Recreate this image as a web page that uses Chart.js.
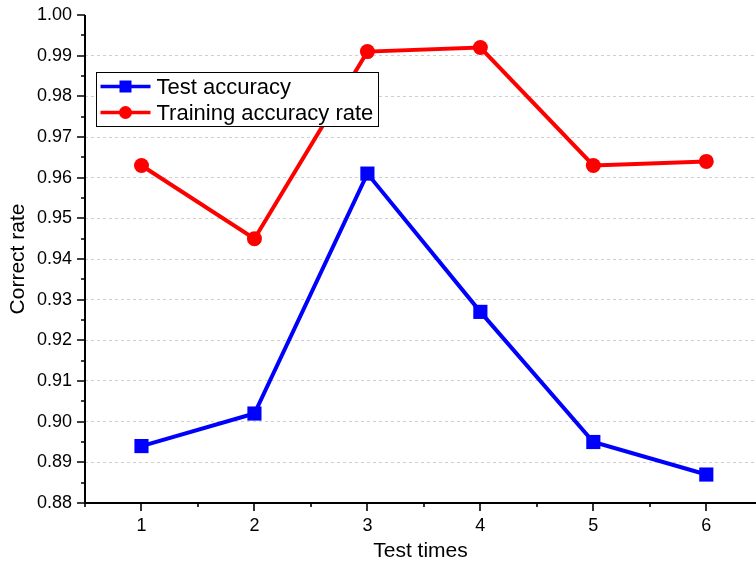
<!DOCTYPE html>
<html>
<head>
<meta charset="utf-8">
<script src="https://cdn.jsdelivr.net/npm/chart.js@4/dist/chart.umd.min.js"></script>
<style>
html,body{margin:0;padding:0;background:#fff}
#wrap{width:756px;height:564px;position:relative}
</style>
</head>
<body>
<div id="wrap"><canvas id="grafico"></canvas></div>
<script>
let testTimes=[1,2,3,4,5,6]
let testAccuracy=[0.894,0.902,0.961,0.927,0.895,0.887]
let trainingAccuracy=[0.963,0.945,0.991,0.992,0.963,0.964]
let seriesNames=['Test accuracy','Training accuracy rate']
let yTicks=[0.88,0.89,0.90,0.91,0.92,0.93,0.94,0.95,0.96,0.97,0.98,0.99,1.00]

let fonte='"Liberation Sans", Arial, sans-serif'

// ticks pra fora, estilo Origin (maior + menor)
let ticksOrigin={
id:'ticksOrigin',
afterDraw(chart){
let c=chart.ctx
let x=chart.scales.x
let y=chart.scales.y
let a=chart.chartArea
c.save()
c.strokeStyle='#000'
c.lineWidth=2
c.beginPath()
c.moveTo(a.left,a.top)
c.lineTo(a.left,a.bottom)
c.moveTo(a.left-1,a.bottom)
c.lineTo(a.right,a.bottom)
c.stroke()
c.lineWidth=1.6
c.beginPath()
for(let v=0.5;v<=x.max+0.001;v+=0.5){
let px=Math.round(x.getPixelForValue(v))
let major=Math.abs(v-Math.round(v))<0.01
c.moveTo(px,a.bottom)
c.lineTo(px,a.bottom+(major?8:4))
}
for(let i=0;i<=24;i++){
let v=0.88+i*0.005
let py=Math.round(y.getPixelForValue(v))
let major=i%2===0
c.moveTo(a.left,py)
c.lineTo(a.left-(major?8:4),py)
}
c.stroke()
c.restore()
}
}

let legendaCaixa={
id:'legendaCaixa',
afterDraw(chart){
let c=chart.ctx
let ds=chart.data.datasets
let bx=96.5,by=72.5,bw=282,bh=54
c.save()
c.fillStyle='#fff'
c.fillRect(bx,by,bw,bh)
c.strokeStyle='#000'
c.lineWidth=1
c.strokeRect(bx,by,bw,bh)
c.font='22px '+fonte
c.textBaseline='middle'
ds.forEach((d,i)=>{
let yy=by+14+i*26
c.strokeStyle=d.borderColor
c.lineWidth=3.5
c.beginPath()
c.moveTo(bx+4,yy)
c.lineTo(bx+54,yy)
c.stroke()
c.fillStyle=d.borderColor
if(d.pointStyle==='rect'){
c.fillRect(bx+29-6,yy-6,12,12)
}else{
c.beginPath()
c.arc(bx+29,yy,6.5,0,Math.PI*2)
c.fill()
}
c.fillStyle='#000'
c.fillText(d.label,bx+60,yy+1)
})
c.restore()
}
}

new Chart(document.getElementById('grafico'),{
type:'line',
data:{
datasets:[
{
label:seriesNames[0],
data:testTimes.map((t,i)=>({x:t,y:testAccuracy[i]})),
borderColor:'#0000ff',
backgroundColor:'#0000ff',
borderWidth:4,
pointStyle:'rect',
pointRadius:10,
pointBorderWidth:0,
tension:0
},
{
label:seriesNames[1],
data:testTimes.map((t,i)=>({x:t,y:trainingAccuracy[i]})),
borderColor:'#ff0000',
backgroundColor:'#ff0000',
borderWidth:4,
pointStyle:'circle',
pointRadius:7.5,
pointBorderWidth:0,
tension:0
}
]
},
options:{
responsive:true,
maintainAspectRatio:false,
animation:false,
layout:{autoPadding:false,padding:{top:15,right:0,left:0,bottom:0}},
clip:false,
plugins:{
legend:{display:false},
tooltip:{enabled:false}
},
scales:{
x:{
type:'linear',
min:0.5,
max:6.44,
afterBuildTicks:s=>{s.ticks=testTimes.map(v=>({value:v}))},
afterFit:s=>{s.height=61;s.paddingLeft=0;s.paddingRight=0},
border:{display:false},
grid:{display:false},
ticks:{
color:'#000',
padding:4,
font:{size:18,family:fonte},
maxRotation:0
},
title:{
display:true,
text:'Test times',
color:'#000',
font:{size:21,family:fonte},
padding:{top:0,bottom:0}
}
},
y:{
min:0.88,
max:1.0,
afterBuildTicks:s=>{s.ticks=yTicks.map(v=>({value:v}))},
afterFit:s=>{s.width=85;s.paddingTop=0;s.paddingBottom=0},
border:{display:false,dash:[3,3]},
grid:{
drawTicks:false,
color:c=>(c.tick&&(c.tick.value>0.995||c.tick.value<0.885))?'rgba(0,0,0,0)':'#cfcfcf',
lineWidth:1
},
ticks:{
color:'#000',
padding:13,
font:{size:18,family:fonte},
callback:v=>Number(v).toFixed(2)
},
title:{
display:true,
text:'Correct rate',
color:'#000',
font:{size:21,family:fonte},
padding:{top:6,bottom:2}
}
}
}
},
plugins:[ticksOrigin,legendaCaixa]
})
</script>
</body>
</html>
